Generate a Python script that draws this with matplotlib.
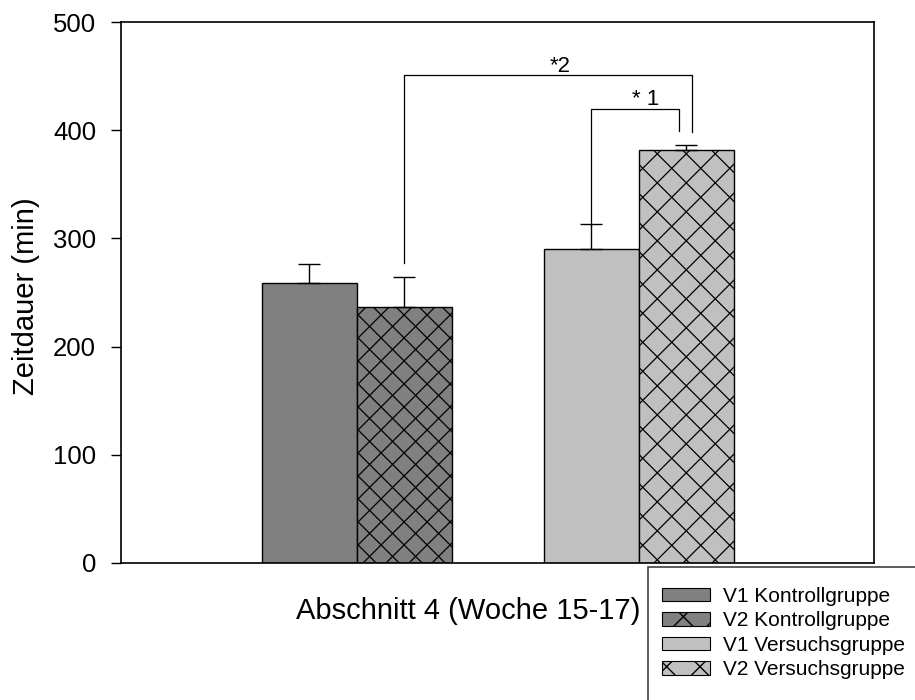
import numpy as np
import matplotlib.pyplot as plt
from matplotlib.patches import Patch, Rectangle
from matplotlib.transforms import IdentityTransform

plt.rcParams['font.family'] = ['Liberation Sans', 'DejaVu Sans']

# --------------------------------
# Data
# --------------------------------
labels = ["V1 Kontrollgruppe", "V2 Kontrollgruppe",
          "V1 Versuchsgruppe", "V2 Versuchsgruppe"]
values = [259, 237, 290, 382]
errors = [17, 27, 23, 4]
colors = ["#808080", "#808080", "#c0c0c0", "#c0c0c0"]
hatch_px = [0, 23, 0, 29]          # cross spacing in pixels, 0 = plain
group_centers = [2.48, 5.45]
positions = [group_centers[0] - 0.5, group_centers[0] + 0.5,
             group_centers[1] - 0.5, group_centers[1] + 0.5]

# significance brackets: left bar, right bar, right-leg offset, top, left end, right end, label, label x
brackets = [
    (1, 3, 0.06, 451, 277, 398, "*2", 4.62),
    (2, 3, -0.08, 420, 312, 399, "* 1", 5.52),
]

# --------------------------------
# Plot
# --------------------------------
W, H = 915, 700
fig = plt.figure(figsize=(W / 100, H / 100), dpi=100)
ax = fig.add_axes([121 / W, 1 - 563 / H, 753 / W, 541 / H])
ax.set_xlim(0, 753 / 95)
ax.set_ylim(0, 500)

bars = []
for x, v, e, c in zip(positions, values, errors, colors):
    b = ax.bar(x, v, width=1.0, color=c, edgecolor="black", linewidth=1.0,
               zorder=2)[0]
    bars.append(b)
    ax.errorbar(x, v, yerr=[[0], [e]], fmt="none", ecolor="black",
                elinewidth=1.0, capsize=8, capthick=1.0, zorder=3)

# hand-drawn cross hatch so the spacing matches
fig.canvas.draw()
for b, s in zip(bars, hatch_px):
    if not s:
        continue
    (x0, y0), (x1, y1) = ax.transData.transform(
        [(b.get_x(), 0), (b.get_x() + b.get_width(), b.get_height())])
    span = (x1 - x0) + (y1 - y0)
    for c in np.arange(-span - s, span + s, s):
        for sign in (1, -1):
            xs = np.array([x0 - span, x1 + span])
            if sign == 1:
                ys = y0 + (xs - x0) + c
            else:
                ys = y0 - (xs - x0) + c + (x1 - x0)
            ln = ax.plot(xs, ys, color="black", linewidth=0.9,
                         transform=IdentityTransform(), zorder=2.5)[0]
            ln.set_clip_path(b)

for i, j, off, top, yl, yr, txt, tx in brackets:
    xl, xr = positions[i], positions[j] + off
    ax.plot([xl, xl, xr, xr], [yl, top, top, yr], color="black",
            linewidth=0.9, zorder=4)
    ax.text(tx, top - 1.5, txt, ha="center", va="bottom", fontsize=16)

ax.set_yticks([0, 100, 200, 300, 400, 500])
ax.set_xticks([])
ax.tick_params(axis="y", direction="out", length=7, width=1.0, pad=11,
               labelsize=18.5)
for sp in ax.spines.values():
    sp.set_linewidth(1.2)

fig.text(26 / W, 1 - 296 / H, "Zeitdauer (min)", rotation=90,
         ha="center", va="center", fontsize=21)
fig.text(468 / W, 1 - 611 / H, "Abschnitt 4 (Woche 15-17)",
         ha="center", va="center", fontsize=21)

# legend box runs off the right and bottom edge
fig.patches.append(Rectangle((648 / W, -0.05), 0.4, 1 - 567 / H + 0.05,
                             transform=fig.transFigure, facecolor="white",
                             edgecolor="#404040", linewidth=1.2))
handles = [Patch(facecolor=c, edgecolor="black", hatch="x" if s else "",
                 linewidth=0.8)
           for c, s in zip(colors, hatch_px)]
fig.legend(handles, labels, loc="upper left",
           bbox_to_anchor=(662 / W, 1 - 587 / H),
           fontsize=15, frameon=False,
           handlelength=2.3, handleheight=0.62, handletextpad=0.62,
           labelspacing=0.26, borderpad=0, borderaxespad=0)

fig.savefig("out.png", dpi=100)
